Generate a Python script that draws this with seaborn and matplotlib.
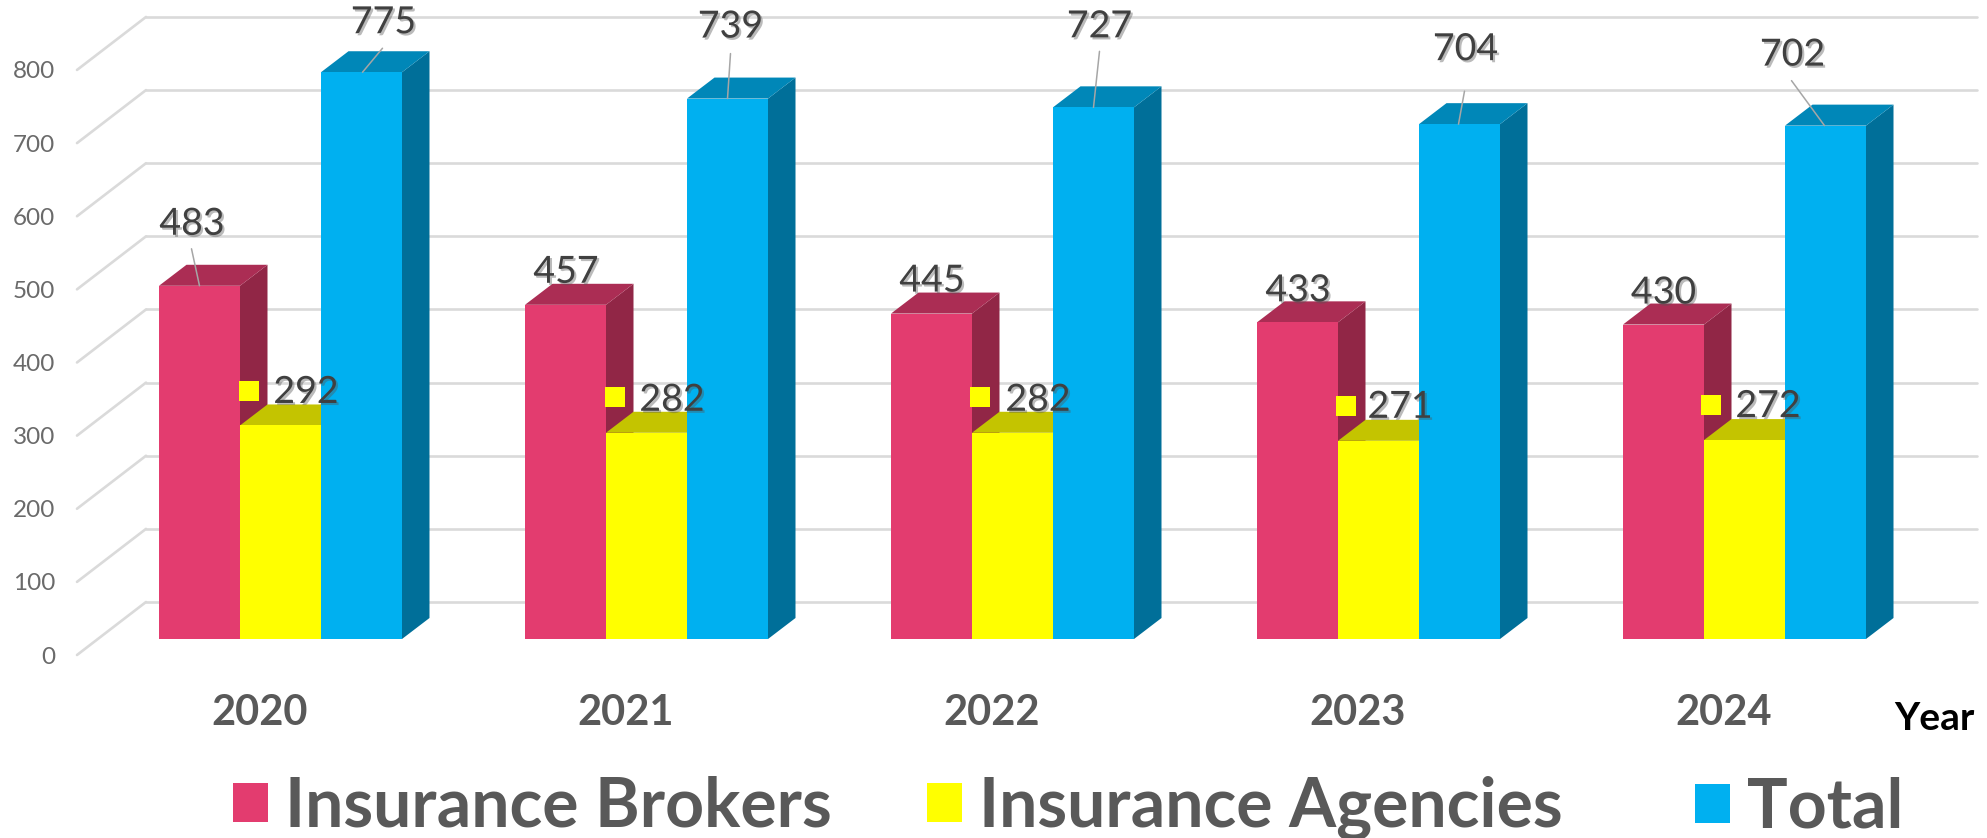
import numpy as np
import pandas as pd
import matplotlib
matplotlib.use('Agg')
import matplotlib.pyplot as plt
import matplotlib.patheffects as pe
from matplotlib.patches import Polygon, Patch
import seaborn as sns

years = ['2020', '2021', '2022', '2023', '2024']
brokers = [483, 457, 445, 433, 430]
agencies = [292, 282, 282, 271, 272]
totals = [775, 739, 727, 704, 702]
series_names = ['Insurance Brokers', 'Insurance Agencies', 'Total']
y_ticks = [0, 100, 200, 300, 400, 500, 600, 700, 800]

front_colors = ['#E33C6F', '#FFFF00', '#00B0F0']
top_colors = ['#AB2D54', '#C4C400', '#0087B8']
side_colors = ['#912646', '#A6A600', '#006F99']

W, H = 1987, 838
PX_PER_UNIT = 0.7313   # vertical pixels per one unit of value
ZERO_Y = 639           # pixel row of value 0 on the front of the bars
FIRST_X = 280.5        # pixel column of the 2020 group centre
STEP_X = 366           # pixels between groups
BAR_DX, BAR_DY = 27.5, 21   # depth of the bars

# label offsets in pixels from the top centre of each bar
broker_off = [(-7.5, -62), (0.5, -33), (0.5, -33), (0.5, -32), (0, -32)]
agency_off = [(25.5, -33.5), (25.5, -33), (25.5, -33), (21.5, -34), (23.5, -34)]
total_off = [(22, -50), (3, -72), (6, -81), (6, -75), (-33, -71)]
# small yellow keys beside the agencies labels
key_off = [(-32, -34), (-32, -35.5), (-32.5, -35.5), (-33, -35), (-34, -35)]
# leader lines, start offset then end offset
total_lead = [((21, -24), (1, 0)), ((3, -45), (0, 0)), ((6, -56), (0, 0)),
              ((5, -33), (-1, 0)), ((-34, -45), (-1, 0))]
broker_lead = [((-8, -37), (0, 0)), None, None, None, None]

sns.set_theme(style='white')
plt.rcParams['font.family'] = ['Lato', 'DejaVu Sans']

df = pd.DataFrame({'year': years * 3,
                   'series': np.repeat(series_names, 5),
                   'value': brokers + agencies + totals})

fig = plt.figure(figsize=(W / 100, H / 100), dpi=100, facecolor='white')
ax = fig.add_axes([0, 0, 1, 1])
sns.barplot(data=df, x='year', y='value', hue='series', hue_order=series_names,
            palette=front_colors, width=243 / STEP_X, gap=0, saturation=1,
            errorbar=None, legend=False, ax=ax)

# the axes fill the figure, limits chosen so that data lands on the wanted pixels
ax.set_xlim(-FIRST_X / STEP_X, (W - FIRST_X) / STEP_X)
ax.set_ylim(-(H - ZERO_Y) / PX_PER_UNIT, ZERO_Y / PX_PER_UNIT)
ax.axis('off')

dx = BAR_DX / STEP_X
dy = BAR_DY / PX_PER_UNIT
px = 1 / STEP_X
py = 1 / PX_PER_UNIT
left = -FIRST_X / STEP_X

# walls: floor offset of the gridlines from the front plane
for v in y_ticks:
    y_back = v + 37 * py
    y_front = v - 16 * py
    ax.plot([left + 146 * px, left + 1977 * px], [y_back, y_back],
            color='#DADADA', lw=1.9, zorder=0, solid_capstyle='round')
    ax.plot([left + 77 * px, left + 146 * px], [y_front, y_back],
            color='#DADADA', lw=1.9, zorder=0, solid_capstyle='round')
    ax.text(left + 55 * px, y_front - 2 * py, str(v), ha='right', va='center',
            fontsize=17.5, color='#6A6A6A', zorder=1)

# extruded faces, stacked left to right so each bar hides the one before
for s, container in enumerate(ax.containers):
    for patch in container.patches:
        x0, w, h = patch.get_x(), patch.get_width(), patch.get_height()
        side = Polygon([(x0 + w, 0), (x0 + w + dx, dy), (x0 + w + dx, h + dy), (x0 + w, h)],
                       fc=side_colors[s], ec='none', zorder=2 + 2 * s)
        top = Polygon([(x0, h), (x0 + dx, h + dy), (x0 + w + dx, h + dy), (x0 + w, h)],
                      fc=top_colors[s], ec='none', zorder=2 + 2 * s)
        ax.add_patch(side)
        ax.add_patch(top)
        patch.set_zorder(3 + 2 * s)
        patch.set_edgecolor('none')

shadow = [pe.withSimplePatchShadow(offset=(1.5, -1.5), alpha=0.4, shadow_rgbFace='#555555')]


def put_label(value, xc, off, lead=None):
    ax.text(xc + off[0] * px, value - off[1] * py, str(value), ha='center', va='center',
            fontsize=27, color='#404040', zorder=20, path_effects=shadow)
    if lead is not None:
        (x0, y0), (x1, y1) = lead
        ax.plot([xc + x0 * px, xc + x1 * px], [value - y0 * py, value - y1 * py],
                color='#A6A6A6', lw=1.1, zorder=19)


for i in range(len(years)):
    p_b = ax.containers[0].patches[i]
    p_a = ax.containers[1].patches[i]
    p_t = ax.containers[2].patches[i]
    xc_a = p_a.get_x() + p_a.get_width() / 2
    put_label(brokers[i], p_b.get_x() + p_b.get_width() / 2, broker_off[i], broker_lead[i])
    put_label(totals[i], p_t.get_x() + p_t.get_width() / 2, total_off[i], total_lead[i])
    put_label(agencies[i], xc_a, agency_off[i])
    ax.scatter([xc_a + key_off[i][0] * px], [agencies[i] - key_off[i][1] * py], marker='s',
               s=228, color=front_colors[1], linewidths=0, zorder=21)
    # category label
    ax.text(i - 21 * px, -74 * py, years[i], ha='center', va='center', fontsize=30,
            fontweight='bold', color='#595959', zorder=5)

ax.text(left + 1934 * px, -79 * py, 'Year', ha='center', va='center', fontsize=28,
        fontweight='bold', color='black')

handles = [Patch(fc=c, ec='none', label=n) for c, n in zip(front_colors, series_names)]
legend_style = dict(loc='center left', frameon=False, prop={'size': 49, 'weight': 'bold'},
                    labelcolor='#595959', handlelength=0.51, handleheight=0.51,
                    handletextpad=0.25, columnspacing=1.41, borderpad=0, borderaxespad=0)
# Lato runs narrower than the original font, so Total gets its own legend to keep its place
first = ax.legend(handles=handles[:2], ncol=2, bbox_to_anchor=(233 / W, 1 - 808 / H), **legend_style)
ax.add_artist(first)
ax.legend(handles=handles[2:], ncol=1, bbox_to_anchor=(1695 / W, 1 - 808 / H), **legend_style)

plt.savefig('out.png', dpi=100)
